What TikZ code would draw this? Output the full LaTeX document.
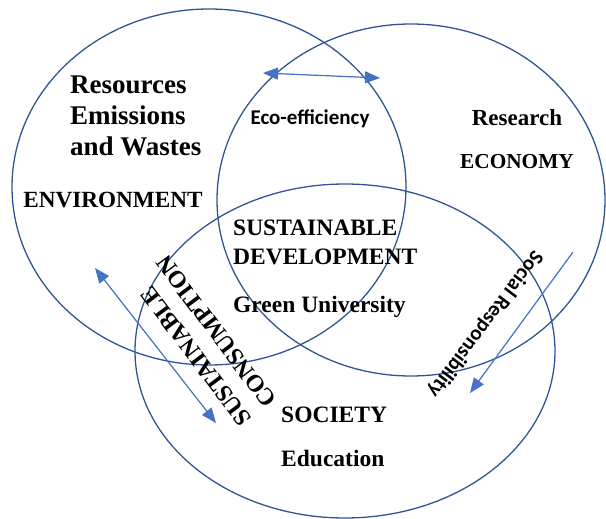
\documentclass[tikz,border=0pt]{standalone}
\usepackage{fontspec}
\setmainfont{Liberation Serif}
\newfontfamily\calibri{Carlito}
\usetikzlibrary{arrows.meta}
\definecolor{ringblue}{HTML}{2F5597}
\definecolor{arrowblue}{HTML}{4472C4}

\begin{document}
\begin{tikzpicture}[
		x=1pt,y=-1pt,
		>={Triangle[length=15pt,width=12pt]},
		ring/.style={draw=ringblue,line width=1.3pt},
		link/.style={draw=arrowblue,fill=arrowblue,line width=1.2pt},
		every node/.style={inner sep=0pt,font=\bfseries},
		bigtext/.style={font=\fontsize{27}{31}\selectfont\bfseries,align=left},
		midtext/.style={font=\fontsize{23.5}{29}\selectfont\bfseries,align=left},
		sanstext/.style={font=\fontsize{21}{25}\selectfont\calibri\bfseries}
		]
		\useasboundingbox (0,0) rectangle (606,519);
		\draw[ring] (209,187) ellipse [x radius=197pt,y radius=178pt];
		\draw[ring] (411,200) ellipse [x radius=194pt,y radius=176pt];
		\draw[ring] (345,351) ellipse [x radius=210pt,y radius=167pt];
		
		\node[bigtext,anchor=north west] (res) at (70,76) {Resources\\Emissions\\and Wastes};
		\node[font=\fontsize{23.2}{27}\selectfont\bfseries] (env) at (113,200) {ENVIRONMENT};
		\node[sanstext] (effic) at (310,119) {Eco-efficiency};
		\node[font=\fontsize{23}{27}\selectfont\bfseries] (research) at (517,118) {Research};
		\node[font=\fontsize{21.3}{25}\selectfont\bfseries] (econ) at (517,162) {ECONOMY};
		\node[midtext,anchor=west] (sustdev) at (233,242) {SUSTAINABLE\\DEVELOPMENT};
		\node[midtext,anchor=west] (green) at (233,307) {Green University};
		\node[midtext,anchor=west] (society) at (281,415) {SOCIETY};
		\node[midtext,anchor=west] (educ) at (281,458) {Education};
		\node[font=\fontsize{24}{31}\selectfont\bfseries,align=left,rotate=127] (sustcons) at (204,341) {SUSTAINABLE\\CONSUMPTION};
		\node[sanstext,rotate=233] (socresp) at (485,324) {Social Responsibility};
		
		\coordinate (ecoL) at (263,73);
		\coordinate (ecoR) at (380,78);
		\coordinate (consA) at (95,268);
		\coordinate (consB) at (216,423);
		\coordinate (respA) at (573,252);
		\coordinate (respB) at (470,393);
		\draw[link,<->] (ecoL) -- (ecoR);
		\draw[link,<->] (consA) -- (consB);
		\draw[link,->] (respA) -- (respB);
\end{tikzpicture}
\end{document}
